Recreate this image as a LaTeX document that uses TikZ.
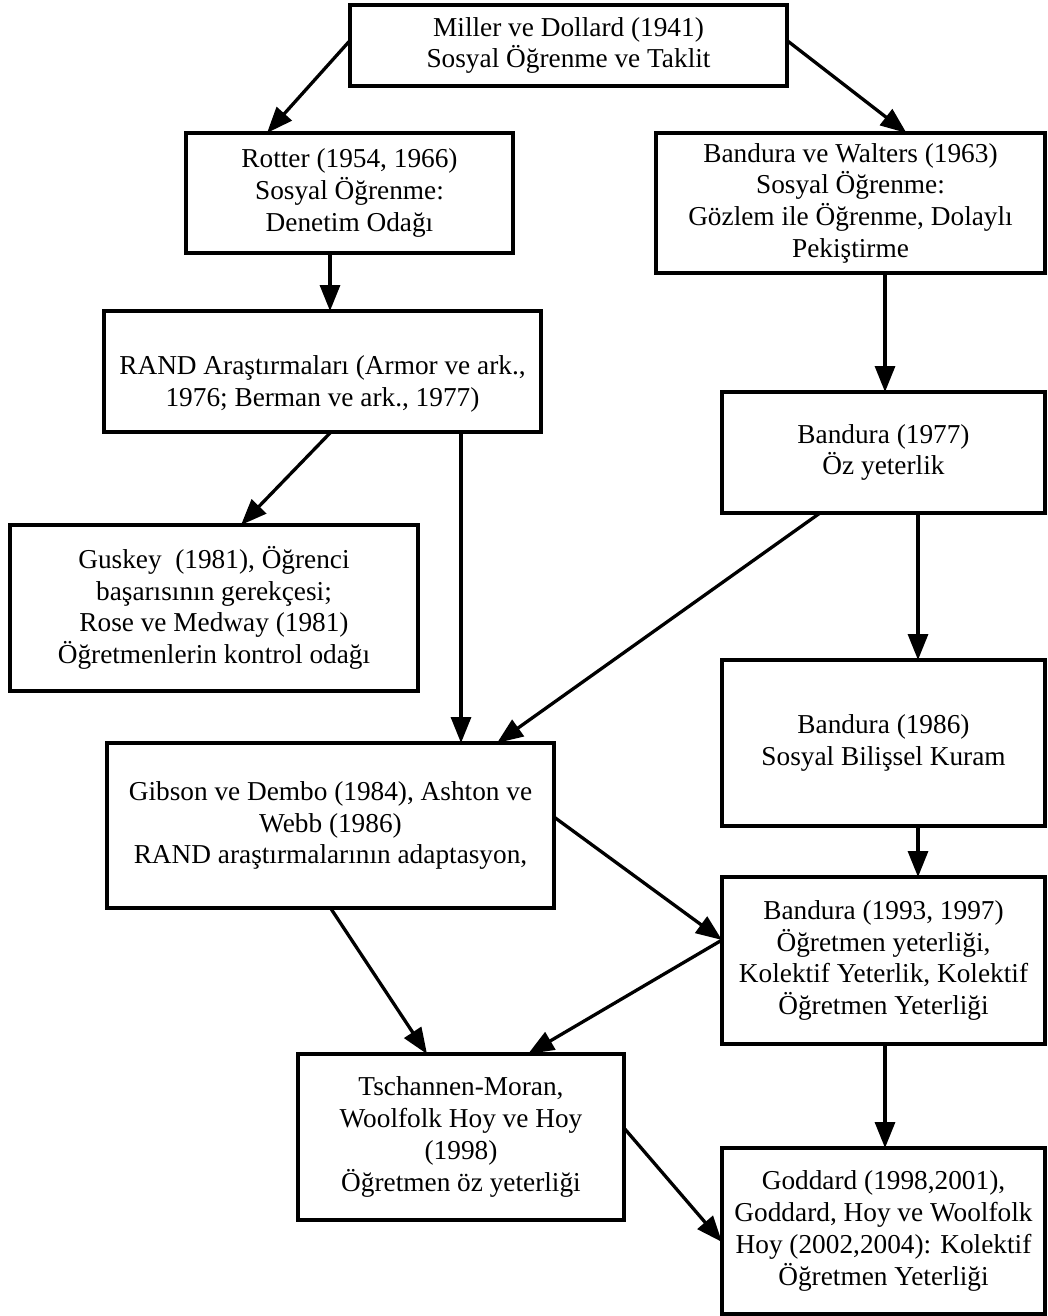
\documentclass[tikz,border=0pt]{standalone}
\usepackage{fontspec}
\setmainfont{Liberation Serif}
\usetikzlibrary{arrows.meta}
\begin{document}
\begin{tikzpicture}[x=1pt,y=-1pt,
  box/.style={draw=black, line width=3.3pt, inner sep=0pt, outer sep=0pt,
    align=center, font=\fontsize{27.3}{31.7}\selectfont},
  txt/.style={inner sep=0pt, align=center, font=\fontsize{27.3}{31.7}\selectfont},
  link/.style={line width=3.3pt, -{Triangle[length=26pt,width=20pt]}},
]
\useasboundingbox (0,0) rectangle (1047,1316);

% boxes
\node[box, minimum width=437pt, minimum height=81pt] (miller) at (568.5,45.5)
  {Miller ve Dollard (1941)\\Sosyal Öğrenme ve Taklit};
\node[box, minimum width=327pt, minimum height=120pt] (rotter) at (349.5,193)
  {Rotter (1954, 1966)\\Sosyal Öğrenme:\\Denetim Odağı};
\node[box, minimum width=389pt, minimum height=140pt] (walters) at (850.5,203)
  {Bandura ve Walters (1963)\\Sosyal Öğrenme:\\Gözlem ile Öğrenme, Dolaylı\\Pekiştirme};
\node[box, minimum width=437pt, minimum height=121pt] (rand) at (322.5,371.5) {};
\node[txt] (randtext) at (322.5,384)
  {RAND Araştırmaları (Armor ve ark.,\\1976; Berman ve ark., 1977)};
\node[box, minimum width=323pt, minimum height=121pt] (b77) at (883.5,452.5)
  {Bandura (1977)\\Öz yeterlik};
\node[box, minimum width=408pt, minimum height=166pt] (guskey) at (214,608)
  {Guskey\ \ (1981), Öğrenci\\başarısının gerekçesi;\\Rose ve Medway (1981)\\Öğretmenlerin kontrol odağı};
\node[box, minimum width=447pt, minimum height=165pt] (gibson) at (330.5,825.5)
  {Gibson ve Dembo (1984), Ashton ve\\Webb (1986)\\RAND araştırmalarının adaptasyon,};
\node[box, minimum width=323pt, minimum height=166pt] (b86) at (883.5,743)
  {Bandura (1986)\\Sosyal Bilişsel Kuram};
\node[box, minimum width=323pt, minimum height=167pt] (b93) at (883.5,960.5)
  {Bandura (1993, 1997)\\Öğretmen yeterliği,\\Kolektif Yeterlik, Kolektif\\Öğretmen Yeterliği};
\node[box, minimum width=326pt, minimum height=166pt] (tsch) at (461,1137)
  {Tschannen-Moran,\\Woolfolk Hoy ve Hoy\\(1998)\\Öğretmen öz yeterliği};
\node[box, minimum width=323pt, minimum height=166pt] (goddard) at (883.5,1231)
  {Goddard (1998,2001),\\Goddard, Hoy ve Woolfolk\\Hoy (2002,2004): Kolektif\\Öğretmen Yeterliği};

% connectors
\draw[link] ([yshift=5pt]miller.west) -- ([xshift=-82.5pt]rotter.north);
\draw[link] ([yshift=5pt]miller.east) -- ([xshift=56pt]walters.north);
\draw[link] ([xshift=-19.5pt]rotter.south) -- ([xshift=-19.5pt]rotter.south |- rand.north);
\draw[link] ([xshift=34.5pt]walters.south) -- ([xshift=1.5pt]b77.north);
\draw[link] ([xshift=8.5pt]rand.south) -- ([xshift=27pt]guskey.north);
\draw[link] ([xshift=138.5pt]rand.south) -- ([xshift=130.5pt]gibson.north);
\draw[link] ([xshift=-63.5pt]b77.south) -- ([xshift=166.5pt]gibson.north);
\draw[link] ([xshift=34.5pt]b77.south) -- ([xshift=34.5pt]b86.north);
\draw[link] ([xshift=34.5pt]b86.south) -- ([xshift=34.5pt]b93.north);
\draw[link] ([yshift=8.5pt]gibson.east) -- ([yshift=20.5pt]b93.west);
\draw[link] ([yshift=20.5pt]b93.west) -- ([xshift=67pt]tsch.north);
\draw[link] (gibson.south) -- ([xshift=-34pt]tsch.north);
\draw[link] ([xshift=1.5pt]b93.south) -- ([xshift=1.5pt]goddard.north);
\draw[link] ([yshift=9pt]tsch.east) -- ([yshift=-11pt]goddard.west);
\end{tikzpicture}
\end{document}
